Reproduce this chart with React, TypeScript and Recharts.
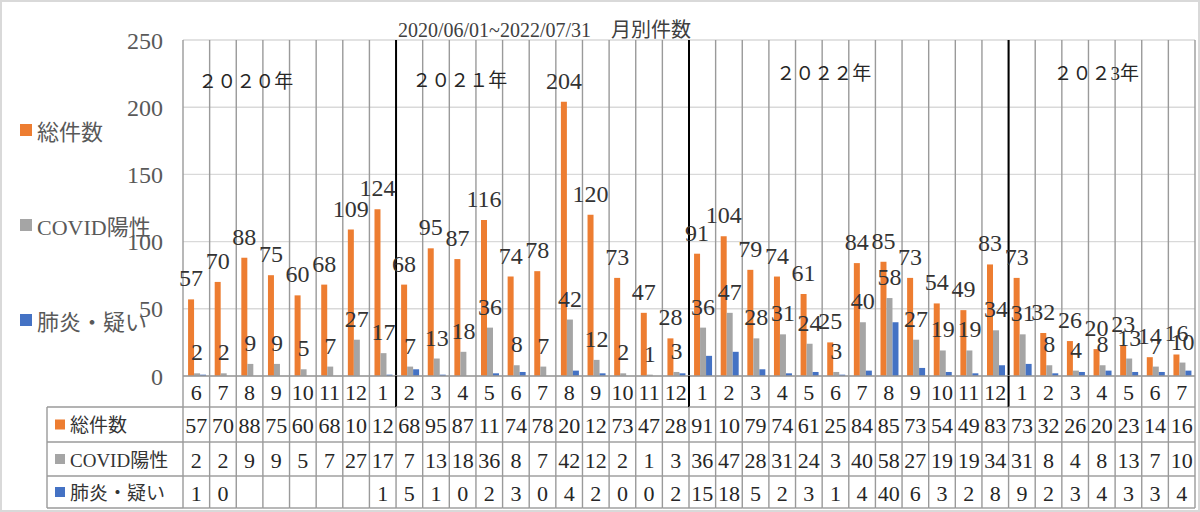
import { BarChart, Bar, XAxis, YAxis, CartesianGrid, LabelList, ReferenceLine, ReferenceDot } from "recharts";

const monthKeys = [
	"2020-06", "2020-07", "2020-08", "2020-09", "2020-10", "2020-11", "2020-12",
	"2021-01", "2021-02", "2021-03", "2021-04", "2021-05", "2021-06", "2021-07",
	"2021-08", "2021-09", "2021-10", "2021-11", "2021-12",
	"2022-01", "2022-02", "2022-03", "2022-04", "2022-05", "2022-06", "2022-07",
	"2022-08", "2022-09", "2022-10", "2022-11", "2022-12",
	"2023-01", "2023-02", "2023-03", "2023-04", "2023-05", "2023-06", "2023-07",
];
const monthLabels = [
	6, 7, 8, 9, 10, 11, 12, 1, 2, 3, 4, 5, 6, 7, 8, 9, 10, 11, 12,
	1, 2, 3, 4, 5, 6, 7, 8, 9, 10, 11, 12, 1, 2, 3, 4, 5, 6, 7,
];
const total = [
	57, 70, 88, 75, 60, 68, 109, 124, 68, 95, 87, 116, 74, 78, 204, 120, 73, 47, 28,
	91, 104, 79, 74, 61, 25, 84, 85, 73, 54, 49, 83, 73, 32, 26, 20, 23, 14, 16,
];
const covid = [
	2, 2, 9, 9, 5, 7, 27, 17, 7, 13, 18, 36, 8, 7, 42, 12, 2, 1, 3,
	36, 47, 28, 31, 24, 3, 40, 58, 27, 19, 19, 34, 31, 8, 4, 8, 13, 7, 10,
];
const pneumonia: (number | null)[] = [
	1, 0, null, null, null, null, null, 1, 5, 1, 0, 2, 3, 0, 4, 2, 0, 0, 2,
	15, 18, 5, 2, 3, 1, 4, 40, 6, 3, 2, 8, 9, 2, 3, 4, 3, 3, 4,
];
const seriesNames = ["総件数", "COVID陽性", "肺炎・疑い"];
const yTicks = [0, 50, 100, 150, 200, 250];
const yearBreaks = ["2021-02", "2022-01", "2023-01"];
const title = "2020/06/01~2022/07/31　月別件数";

const data = monthKeys.map((key, i) => ({
	key,
	month: monthLabels[i],
	total: total[i],
	covid: covid[i],
	pneumonia: pneumonia[i],
}));

const COLORS = ["#ed7d31", "#a5a5a5", "#4472c4"];
const FONT = "'Liberation Serif', 'Noto Sans CJK JP', serif";
const GRID = "#9a9a9a";
const ROWS = [31, 35, 34, 32];
const LABEL_COL = 136;

function TableTick(props: any) {
	const { x, y, payload } = props;
	const i = payload.index;
	const half = payload.offset || 13.3;
	const l = x - half;
	const r = x + half;
	const y1 = y + ROWS[0];
	const y2 = y1 + ROWS[1];
	const y3 = y2 + ROWS[2];
	const y4 = y3 + ROWS[3];
	const rowsY = [y1, y2, y3];
	const values = [total[i], covid[i], pneumonia[i]];
	const isBreak = yearBreaks.includes(monthKeys[i]);
	const last = i === monthKeys.length - 1;
	return (
		<g>
			<line x1={l} x2={l} y1={y} y2={y1} stroke={isBreak ? "#000" : GRID} strokeWidth={isBreak ? 2 : 1.4} />
			<line x1={l} x2={l} y1={y1} y2={y4} stroke={GRID} strokeWidth={1.4} />
			{last && <line x1={r} x2={r} y1={y} y2={y4} stroke={GRID} strokeWidth={1.4} />}
			{[y1, y2, y3, y4].map((yy) => (
				<line key={yy} x1={l} x2={r} y1={yy} y2={yy} stroke={GRID} strokeWidth={1.4} />
			))}
			<text x={x} y={y + ROWS[0] / 2 + 1} textAnchor="middle" dominantBaseline="central" fontSize={22} fill="#262626">
				{monthLabels[i]}
			</text>
			{values.map((v, k) => (
				<text
					key={k}
					x={x}
					y={rowsY[k] + ROWS[k + 1] / 2 + 1}
					textAnchor="middle"
					dominantBaseline="central"
					fontSize={22}
					fill="#262626"
				>
					{v == null ? "" : String(v).slice(0, 2)}
				</text>
			))}
			{i === 0 && (
				<g>
					<line x1={l - LABEL_COL} x2={l - LABEL_COL} y1={y1} y2={y4} stroke={GRID} strokeWidth={1.4} />
					{[y1, y2, y3, y4].map((yy) => (
						<line key={yy} x1={l - LABEL_COL} x2={l} y1={yy} y2={yy} stroke={GRID} strokeWidth={1.4} />
					))}
					{seriesNames.map((name, k) => {
						const cy = rowsY[k] + ROWS[k + 1] / 2;
						return (
							<g key={name}>
								<rect x={l - LABEL_COL + 8} y={cy - 5} width={10} height={10} fill={COLORS[k]} />
								<text x={l - LABEL_COL + 23} y={cy + 1} dominantBaseline="central" fontSize={19} fill="#333">
									{name}
								</text>
							</g>
						);
					})}
				</g>
			)}
		</g>
	);
}

function YearText(props: any) {
	const { viewBox, text, dx } = props;
	if (!viewBox) return null;
	return (
		<text x={viewBox.x + dx} y={viewBox.y} dominantBaseline="central" fontSize={19} fill="#262626">
			{text}
		</text>
	);
}

export default function App() {
	return (
		<div style={{ position: "absolute", left: 0, top: 0, width: 1200, height: 512, fontFamily: FONT, background: "#fff" }}>
			<BarChart
				width={1200}
				height={512}
				data={data}
				margin={{ top: 40, right: 5, bottom: 4, left: 0 }}
				barCategoryGap="19%"
				barGap={0}
			>
				<CartesianGrid horizontal={true} vertical={false} stroke="#d9d9d9" strokeWidth={1.4} />
				<CartesianGrid
					horizontal={false}
					vertical={true}
					stroke={GRID}
					strokeWidth={1.4}
					verticalCoordinatesGenerator={({ offset }: any) =>
						monthKeys.map((_, i) => offset.left + (i * offset.width) / monthKeys.length).concat(offset.left + offset.width)
					}
				/>
				<XAxis
					dataKey="key"
					interval={0}
					height={132}
					tickSize={0}
					tickMargin={0}
					axisLine={{ stroke: GRID, strokeWidth: 1.4 }}
					tickLine={false}
					tick={<TableTick />}
				/>
				<YAxis
					width={183}
					domain={[0, 250]}
					ticks={yTicks}
					axisLine={false}
					tickLine={false}
					tickMargin={14}
					tick={{ fontSize: 24, fill: "#595959" }}
				/>
				{yearBreaks.map((k) => (
					<ReferenceLine key={k} x={k} position="start" stroke="#000" strokeWidth={2} />
				))}
				<ReferenceDot x="2020-06" y={219} r={0} stroke="none" fill="none" label={<YearText text="２０２０年" dx={2} />} />
				<ReferenceDot x="2021-02" y={220} r={0} stroke="none" fill="none" label={<YearText text="２０２１年" dx={3} />} />
				<ReferenceDot x="2022-04" y={225} r={0} stroke="none" fill="none" label={<YearText text="２０２２年" dx={-6} />} />
				<ReferenceDot x="2023-02" y={225} r={0} stroke="none" fill="none" label={<YearText text="２０２3年" dx={5} />} />
				<Bar dataKey="total" name={seriesNames[0]} fill={COLORS[0]} isAnimationActive={false}>
					<LabelList dataKey="total" position="top" offset={13} fontSize={24} fill="#333" />
				</Bar>
				<Bar dataKey="covid" name={seriesNames[1]} fill={COLORS[1]} isAnimationActive={false}>
					<LabelList dataKey="covid" position="top" offset={13} fontSize={24} fill="#333" />
				</Bar>
				<Bar dataKey="pneumonia" name={seriesNames[2]} fill={COLORS[2]} isAnimationActive={false} />
			</BarChart>
			<div style={{ position: "absolute", left: 398, top: 19, fontSize: 20, lineHeight: "22px", color: "#404040", whiteSpace: "nowrap" }}>
				{title}
			</div>
			{seriesNames.map((name, k) => (
				<div
					key={name}
					style={{ position: "absolute", left: 20, top: 117 + k * 95, height: 26, display: "flex", alignItems: "center", fontSize: 22, color: "#595959", whiteSpace: "nowrap" }}
				>
					<span style={{ width: 12, height: 12, background: COLORS[k], marginRight: 5, display: "inline-block" }} />
					{name}
				</div>
			))}
			<div style={{ position: "absolute", left: 0, top: 0, width: 1200, height: 512, boxSizing: "border-box", border: "2px solid #d9d9d9", pointerEvents: "none" }} />
		</div>
	);
}
